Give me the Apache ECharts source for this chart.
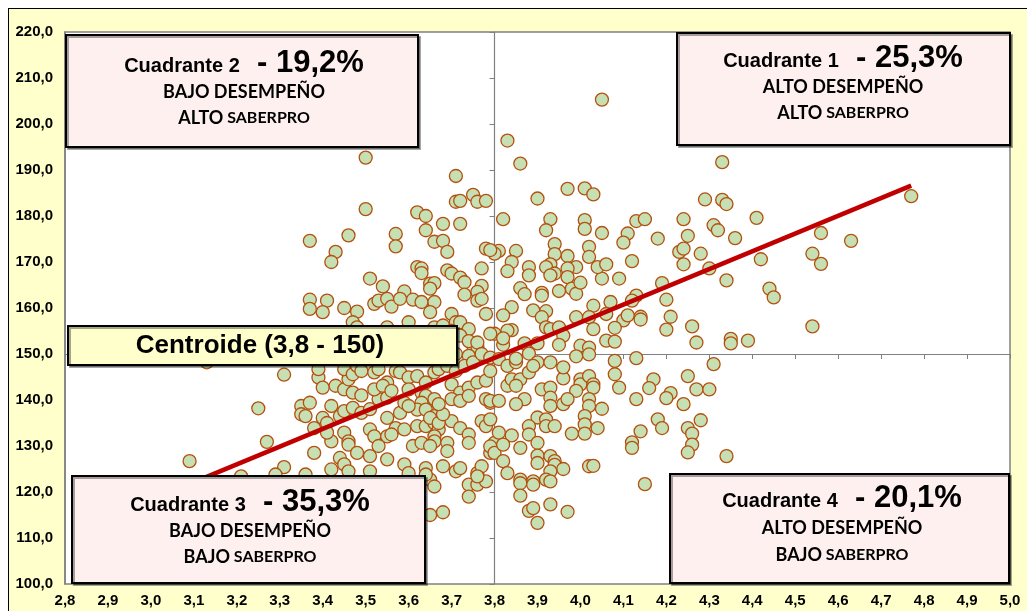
<!DOCTYPE html>
<html><head><meta charset="utf-8">
<script src="https://cdn.jsdelivr.net/npm/echarts@6/dist/echarts.min.js"></script>
<style>
html,body{margin:0;padding:0;background:#fff;width:1027px;height:611px;overflow:hidden;}
#frame{position:absolute;left:8px;top:8px;width:1040px;height:640px;border:1px solid #000;background:#FFFFCC;box-sizing:border-box;}
#chart{position:absolute;left:0;top:0;width:1027px;height:611px;}
</style></head><body>
<div id="frame"></div><div id="chart"></div>
<script>
// ---- data ----
const xTickLabels = ['2,8','2,9','3,0','3,1','3,2','3,3','3,4','3,5','3,6','3,7','3,8','3,9','4,0','4,1','4,2','4,3','4,4','4,5','4,6','4,7','4,8','4,9','5,0'];
const yTickLabels = ['100,0','110,0','120,0','130,0','140,0','150,0','160,0','170,0','180,0','190,0','200,0','210,0','220,0'];
const centroid = [3.8, 150];
const quadrantNames = ['Cuadrante 1','Cuadrante 2','Cuadrante 3','Cuadrante 4'];
const quadrantPct = ['25,3%','19,2%','35,3%','20,1%'];
const quadrantDesempeno = ['ALTO DESEMPEÑO','BAJO DESEMPEÑO','BAJO DESEMPEÑO','ALTO DESEMPEÑO'];
const quadrantSaber = ['ALTO','ALTO','BAJO','BAJO'];
const trendX = [3.0, 4.77];
const trendY = [118.3, 186.6];

// [promedio desempeño, puntaje SaberPro]
const estudiantes = [
[4.05,205.3],[3.83,196.4],[3.50,192.7],[3.86,191.4],[4.33,191.7],[3.71,188.7],[3.97,185.9],[4.01,186.0],[4.03,184.7],[3.90,183.8],
[3.71,183.1],[3.72,183.3],[3.75,184.6],[3.76,183.1],[3.78,183.3],[3.50,181.5],[3.62,180.8],[3.64,180.0],[3.68,178.3],[3.72,178.3],
[3.82,179.3],[3.93,179.3],[3.92,176.9],[4.01,179.1],[4.01,177.2],[4.05,176.3],[4.13,178.9],[4.15,179.3],[4.11,176.2],[4.10,174.2],
[4.18,175.1],[4.24,179.3],[4.25,175.7],[4.29,183.6],[4.33,183.5],[4.34,182.6],[4.31,178.0],[4.32,176.9],[4.36,175.2],[4.41,179.6],
[4.23,172.2],[4.24,172.9],[4.28,171.8],[4.24,169.5],[4.30,168.6],[4.34,166.0],[4.42,170.6],[4.44,164.2],[4.45,162.3],[4.54,171.8],
[4.56,176.3],[4.56,169.6],[4.63,174.6],[4.77,184.3],[4.54,156.0],[4.19,165.4],[4.20,161.8],[4.21,158.1],[4.20,155.3],[4.26,156.0],
[4.27,152.5],[4.35,153.3],[4.35,152.3],[4.39,152.9],[4.14,158.1],[4.14,157.5],[4.10,157.3],[4.08,155.7],[4.06,152.9],[4.08,152.7],
[4.13,162.7],[4.12,161.6],[4.11,158.4],[4.09,166.4],[4.12,170.2],[4.05,166.4],[4.04,168.9],[4.06,169.5],[4.02,173.3],[4.02,171.1],
[3.99,168.9],[3.97,171.3],[3.97,168.6],[3.97,166.7],[3.98,164.2],[3.99,163.1],[4.00,165.5],[3.95,163.7],[3.94,173.9],[3.94,171.7],
[3.93,169.5],[3.92,168.9],[3.94,167.5],[3.93,167.1],[3.91,163.3],[3.91,162.7],[3.86,164.3],[3.87,163.0],[3.88,168.9],[3.88,167.1],
[3.85,172.4],[3.84,170.0],[3.83,168.0],[3.81,172.4],[3.80,171.8],[3.84,160.2],[3.82,158.4],[3.89,159.5],[3.92,159.3],[3.91,158.0],
[3.92,155.8],[3.93,155.4],[3.95,155.8],[3.96,154.0],[3.99,158.0],[4.03,160.5],[4.02,158.0],[4.03,155.4],[4.07,161.3],[4.06,158.7],
[3.84,155.2],[3.83,155.1],[3.80,154.4],[3.82,152.0],[3.87,152.3],[3.90,152.3],[3.95,152.0],[4.00,151.8],[4.02,151.4],
[3.64,176.9],[3.57,176.1],[3.57,173.4],[3.46,175.8],[3.37,174.6],[3.43,172.2],[3.42,170.0],[3.66,174.4],[3.68,174.6],[3.69,172.2],
[3.78,172.9],[3.79,172.6],[3.77,168.6],[3.62,168.9],[3.63,168.6],[3.63,167.6],[3.69,168.2],[3.70,167.5],[3.72,166.6],[3.73,165.6],
[3.51,166.4],[3.54,164.7],[3.59,163.6],[3.65,165.3],[3.66,165.4],[3.65,164.2],[3.77,164.8],[3.76,163.5],[3.73,162.9],[3.76,161.6],
[3.77,162.0],[3.37,161.8],[3.37,159.8],[3.41,161.6],[3.40,159.1],[3.45,160.0],[3.48,159.2],[3.52,160.9],[3.53,161.6],[3.55,162.0],
[3.56,160.3],[3.58,162.0],[3.61,161.8],[3.63,161.3],[3.66,161.3],[3.65,159.1],[3.70,158.7],[3.71,156.9],[3.78,158.7],[3.79,154.4],
[3.60,156.9],[3.55,155.8],[3.47,156.9],[3.48,155.8],[3.66,155.8],[3.68,156.2],[3.72,156.9],[3.74,155.4],[3.75,151.8],[3.76,151.6],
[3.70,155.0],[3.72,154.0],[3.74,152.8],[3.76,152.5],[3.69,153.0],[3.67,152.0],[3.62,153.0],[3.58,152.5],[3.56,151.5],[3.60,150.8],
[3.64,150.5],[3.71,150.0],[3.74,149.6],
[3.13,148.2],[3.31,145.5],[3.25,138.2],[3.27,130.9],[3.09,126.7],[3.31,125.4],[3.38,128.5],
[3.35,138.7],[3.37,139.4],[3.35,136.9],[3.36,136.5],[3.38,133.9],[3.40,136.1],[3.41,135.0],
[3.39,144.9],[3.40,142.7],[3.39,146.7],[3.42,131.0],[3.41,132.9],[3.42,138.7],[3.44,136.5],[3.45,137.6],
[3.43,143.1],[3.45,142.3],[3.47,141.6],[3.46,144.5],[3.45,146.7],[3.47,145.6],[3.48,147.4],[3.49,146.3],
[3.49,141.0],[3.47,138.3],[3.49,137.2],[3.51,138.0],[3.51,133.6],[3.52,132.1],[3.55,132.1],[3.53,130.0],
[3.45,132.9],[3.46,131.0],[3.46,130.3],[3.48,128.5],[3.44,127.4],[3.42,124.9],[3.45,126.0],[3.51,127.8],[3.55,127.1],[3.59,126.0],
[3.52,146.0],[3.53,146.7],[3.55,143.8],[3.57,146.3],[3.58,146.0],[3.53,140.2],[3.55,140.5],[3.58,137.2],[3.55,136.1],
[3.57,133.9],[3.56,132.5],[3.59,133.6],[3.61,130.0],[3.60,144.9],[3.62,145.2],[3.64,143.8],[3.60,142.3],[3.63,141.6],[3.64,140.9],
[3.63,139.4],[3.62,137.9],[3.64,137.9],[3.66,136.5],[3.62,134.3],[3.64,134.3],[3.66,135.0],[3.67,133.6],[3.66,132.1],
[3.63,130.7],[3.66,131.0],[3.65,130.0],[3.69,130.7],[3.69,128.9],[3.64,125.2],[3.68,125.6],[3.71,124.5],[3.72,125.2],[3.76,124.1],[3.77,125.6],
[3.66,146.0],[3.67,146.7],[3.69,147.4],[3.71,146.3],[3.73,147.4],[3.75,148.2],[3.77,150.0],[3.79,149.2],[3.81,148.9],
[3.70,143.4],[3.72,141.6],[3.74,142.7],[3.76,143.8],[3.78,144.2],[3.70,140.2],[3.72,139.8],[3.74,140.9],[3.79,139.4],[3.78,140.2],
[3.70,135.4],[3.72,133.9],[3.74,132.5],[3.74,130.7],[3.77,135.4],[3.78,134.3],[3.80,130.7],[3.81,132.9],[3.79,128.5],
[3.65,136.1],[3.67,135.0],[3.68,136.9],[3.52,142.3],[3.54,143.1],[3.56,142.0],[3.59,139.4],[3.60,138.7],[3.66,140.2],[3.67,139.1],
[3.65,115.0],[3.68,115.6],[3.74,121.6],[3.74,119.0],[3.76,121.6],[3.78,122.3],[3.76,123.4],[3.65,122.7],[3.66,121.2],[3.64,123.8],
[3.60,124.1],[3.51,124.5],[3.46,124.5],[3.36,123.8],[3.29,123.8],[3.21,123.4],
[4.08,148.5],[4.08,145.6],[4.09,142.7],[4.13,149.1],[4.31,147.8],[4.25,145.2],[4.17,144.5],[4.16,142.6],[4.27,142.3],[4.30,142.3],
[4.21,141.5],[4.20,140.4],[4.24,139.1],[4.13,140.2],[4.18,135.8],[4.19,133.9],[4.14,133.2],[4.12,130.8],[4.12,129.6],[4.28,135.6],
[4.25,133.9],[4.26,132.7],[4.26,130.3],[4.25,128.6],[4.34,127.8],
[3.79,146.3],[3.79,139.8],[3.79,135.8],[3.79,129.9],[3.81,139.8],[3.80,128.5],
[3.83,147.4],[3.83,143.1],[3.84,144.5],[3.86,144.5],[3.85,143.1],[3.85,148.2],[3.82,153.4],[3.85,149.0],[3.88,150.1],[3.90,148.2],
[3.93,148.2],[3.88,146.0],[3.89,147.4],[3.87,140.2],[3.85,139.1],
[3.91,142.3],[3.93,142.7],[3.93,140.5],[3.93,138.7],[3.96,144.7],[3.96,147.1],
[3.99,149.5],[4.02,149.9],[4.00,144.5],[4.00,143.4],[4.02,145.2],[4.03,143.4],[4.03,142.7],
[3.99,142.0],[4.02,140.2],[4.02,138.7],[3.96,139.1],[3.97,140.2],[4.05,138.1],
[3.90,136.2],[3.92,135.8],[3.92,134.3],[3.94,134.3],[3.88,134.3],[3.88,132.5],[3.90,130.7],[3.84,132.3],[3.82,130.3],[3.86,129.6],
[4.01,136.5],[4.01,134.7],[4.01,132.7],[4.04,133.9],[3.98,132.7],
[3.90,127.9],[3.90,126.3],[3.93,127.8],[3.94,126.7],[3.94,125.9],[3.96,125.0],[3.93,124.5],[3.82,126.7],[3.83,124.1],[4.02,125.6],[4.03,125.7],
[3.86,122.7],[3.89,122.3],[3.92,122.7],[4.15,121.7],
[3.86,121.9],[3.89,121.6],[3.86,119.2],[3.88,115.9],[3.89,116.5],[3.90,113.3],[3.93,117.3],[3.93,122.3],[3.97,115.7]
];

// ---- chart ----
const chart = echarts.init(document.getElementById('chart'), null, {renderer:'canvas'});
const ARIAL = '"Liberation Sans", Arial, sans-serif';
const CAL = 'Lato, "Open Sans", sans-serif';
const gridPos = {left:65, right:17, top:32, bottom:27};

function box(x, y, w, h, fill) {
  return {type:'rect', z:100, shape:{x:x, y:y, width:w, height:h},
    style:{fill:fill, stroke:'#000', lineWidth:2, shadowColor:'rgba(0,0,0,0.35)', shadowOffsetX:2, shadowOffsetY:2, shadowBlur:0}};
}
function quadText(i, cx, y1, y2, y3) {
  return [
    {type:'text', z:101, x:cx, y:y1, style:{text:'{a|' + quadrantNames[i] + '}{b|  - ' + quadrantPct[i] + '}',
      align:'center', verticalAlign:'middle',
      rich:{a:{fontFamily:ARIAL, fontWeight:'bold', fontSize:20, fill:'#000', verticalAlign:'bottom', padding:[0,0,2,0]},
            b:{fontFamily:ARIAL, fontWeight:'bold', fontSize:31, fill:'#000', verticalAlign:'bottom'}}}},
    {type:'text', z:101, x:cx, y:y2, style:{text:quadrantDesempeno[i], fontFamily:CAL, fontWeight:'bold', fontSize:18, fill:'#000', align:'center', verticalAlign:'middle'}},
    {type:'text', z:101, x:cx, y:y3, style:{text:'{c|' + quadrantSaber[i] + '}{d| SABERPRO}', align:'center', verticalAlign:'middle',
      rich:{c:{fontFamily:CAL, fontWeight:'bold', fontSize:18, fill:'#000', verticalAlign:'bottom'},
            d:{fontFamily:CAL, fontWeight:'bold', fontSize:16, fill:'#000', verticalAlign:'bottom', padding:[0,0,1,0]}}}}
  ];
}

const graphics = [].concat(
  [box(66, 35, 352, 112, '#FFF0F0')], quadText(1, 244, 63, 92, 118),
  [box(677, 33, 333, 112, '#FFF0F0')], quadText(0, 843, 58, 87, 113),
  [box(72, 476, 353, 107, '#FFF0F0')], quadText(2, 250, 502, 531, 557),
  [box(670, 474, 339, 109, '#FFF0F0')], quadText(3, 842, 498, 528, 555),
  [box(68, 326, 389, 39, '#FFFFCC'),
   {type:'text', z:101, x:260, y:346, style:{text:'Centroide (' + String(centroid[0]).replace('.', ',') + ' - ' + centroid[1] + ')',
     fontFamily:ARIAL, fontWeight:'bold', fontSize:26, fill:'#000', align:'center', verticalAlign:'middle'}}]
);

const option = {
  animation:false,
  backgroundColor:'transparent',
  grid:[
    Object.assign({show:true, backgroundColor:'#fff', borderColor:'#808080', borderWidth:1.5}, gridPos),
    Object.assign({show:false}, gridPos)
  ],
  xAxis:[
    {type:'value', gridIndex:0, min:2.8, max:5.0, interval:0.1,
     axisLine:{show:false}, axisTick:{show:false}, splitLine:{show:false},
     axisLabel:{margin:9, fontFamily:ARIAL, fontWeight:'bold', fontSize:15, color:'#000',
       formatter:function(v){ return xTickLabels[Math.round((v - 2.8) * 10)]; }}},
    {type:'value', gridIndex:1, min:2.8 - centroid[0], max:5.0 - centroid[0], interval:0.1,
     axisLine:{show:true, onZero:true, lineStyle:{color:'#808080', width:1.2}},
     axisTick:{show:true, length:5, lineStyle:{color:'#808080'}},
     axisLabel:{show:false}, splitLine:{show:false}}
  ],
  yAxis:[
    {type:'value', gridIndex:0, min:100, max:220, interval:10,
     axisLine:{show:true, lineStyle:{color:'#808080', width:1.5}}, axisTick:{show:false}, splitLine:{show:false},
     axisLabel:{margin:12, fontFamily:ARIAL, fontWeight:'bold', fontSize:15, color:'#000',
       formatter:function(v){ return yTickLabels[Math.round((v - 100) / 10)]; }}},
    {type:'value', gridIndex:1, min:100 - centroid[1], max:220 - centroid[1], interval:10,
     axisLine:{show:true, onZero:true, lineStyle:{color:'#808080', width:1.2}},
     axisTick:{show:true, length:5, lineStyle:{color:'#808080'}},
     axisLabel:{show:false}, splitLine:{show:false}}
  ],
  series:[
    {type:'scatter', xAxisIndex:0, yAxisIndex:0, data:estudiantes, symbol:'circle', symbolSize:13, z:3,
     itemStyle:{color:'#C6E0B4', borderColor:'#B4500F', borderWidth:1.3, opacity:1}},
    {type:'line', xAxisIndex:0, yAxisIndex:0, data:trendX.map(function(x, i){ return [x, trendY[i]]; }),
     symbol:'none', z:4, lineStyle:{color:'#C00000', width:4.5}}
  ],
  graphic:graphics
};
chart.setOption(option);
</script>
</body></html>
